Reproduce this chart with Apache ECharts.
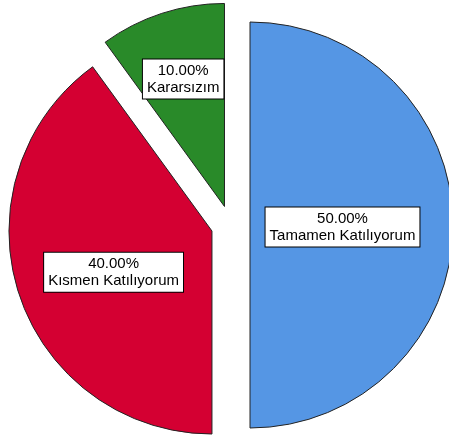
<!DOCTYPE html>
<html><head><meta charset="utf-8">
<script src="https://cdn.jsdelivr.net/npm/echarts@6/dist/echarts.min.js"></script>
<style>html,body{margin:0;padding:0;background:#fff}#c{width:449px;height:438px}</style>
</head><body><div id="c"></div>
<script>
const categories = ['Tamamen Katılıyorum', 'Kısmen Katılıyorum', 'Kararsızım'];
const values = [50, 40, 10];
const colors = ['#5596E4', '#D40032', '#298A29'];
const labelShift = [[-12, 2], [1, 9], [-9, -28]];

const chart = echarts.init(document.getElementById('c'));
chart.setOption({
  animation: false,
  series: [{
    type: 'pie',
    center: [230.5, 225],
    radius: [0, 203],
    startAngle: 90,
    clockwise: true,
    selectedMode: 'multiple',
    selectedOffset: 19.5,
    itemStyle: { borderColor: '#222', borderWidth: 1 },
    emphasis: { disabled: true },
    labelLine: { show: false },
    label: {
      position: 'inside',
      formatter: p => p.value.toFixed(2) + '%\n' + p.name,
      fontFamily: 'Liberation Sans',
      fontSize: 15,
      lineHeight: 17,
      color: '#000',
      backgroundColor: '#fff',
      borderColor: '#000',
      borderWidth: 1,
      padding: [3, 4, 2, 4],
      align: 'center'
    },
    labelLayout: p => ({ dx: labelShift[p.dataIndex][0], dy: labelShift[p.dataIndex][1] }),
    data: categories.map((c, i) => ({ name: c, value: values[i], selected: true, itemStyle: { color: colors[i] } }))
  }]
});
</script></body></html>
